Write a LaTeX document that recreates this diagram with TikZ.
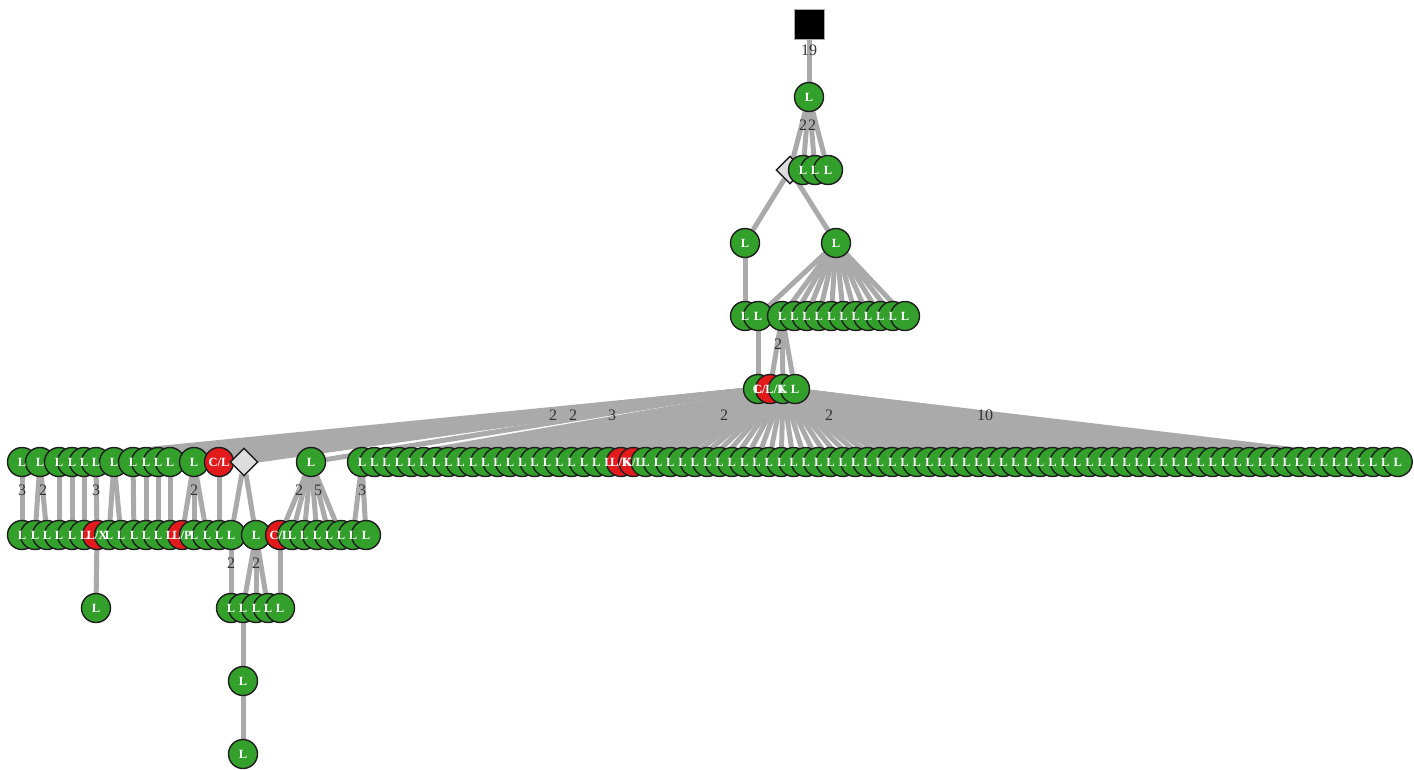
\documentclass[tikz,border=0pt]{standalone}
\usepackage{fontspec}
\setmainfont{Liberation Serif}
\usetikzlibrary{shapes.geometric, backgrounds}
\definecolor{clrLeaf} {HTML}{33A02C}
\definecolor{clrHot}  {HTML}{E31A1C}
\definecolor{clrEdge} {HTML}{AAAAAA}
\definecolor{clrRim}  {HTML}{1E1E1E}
\definecolor{clrSplit}{HTML}{DDDDDD}
\definecolor{clrNum}  {HTML}{333333}
\pgfdeclarelayer{front}
\pgfsetlayers{background,main,front}
\tikzset{
  leaf/.style = {
    circle, draw=clrRim, line width=1.4pt,
    fill=clrLeaf, minimum size=29pt, inner sep=0pt,
  },
  hot/.style   = {leaf, fill=clrHot},
  split/.style = {diamond, draw=clrRim, line width=1.4pt,
                  fill=clrSplit, minimum size=28pt, inner sep=0pt},
  root/.style  = {rectangle, draw=clrEdge, line width=1pt,
                  fill=black, minimum size=30pt, inner sep=0pt},
  tag/.style   = {font=\fontsize{12.5}{12.5}\selectfont\bfseries,
                  text=white, inner sep=0pt},
  link/.style  = {draw=clrEdge, line width=5pt},
  num/.style   = {font=\fontsize{16}{16}\selectfont, text=clrNum, inner sep=1pt},
}

\begin{document}
\begin{tikzpicture}[x=1pt, y=-1pt]
\useasboundingbox (0,0) rectangle (1414,769);

% ══════════════════════════════════════════════════════════════════════════
%  TOP — root, first split, upper levels
% ══════════════════════════════════════════════════════════════════════════

\node[root]  (sq) at (809, 24) {};
\node[leaf]  (a)  at (809, 97) {};
\node[split] (d1) at (790,170) {};
\foreach \n/\x in {b1/803, b2/815, b3/828}
  \node[leaf] (\n) at (\x,170) {};
\node[leaf]  (c1) at (745,243) {};
\node[leaf]  (c2) at (836,243) {};
\node[leaf]  (e1) at (745,316) {};
\node[leaf]  (e2) at (758,316) {};
\foreach \i in {1,...,11}
  \node[leaf] (f\i) at ({782+12.3*(\i-1)},316) {};
\foreach \n/\x/\s in {g1/758/leaf, g2/770/hot, g3/783/leaf, g4/795/leaf}
  \node[\s] (\n) at (\x,389) {};

% ══════════════════════════════════════════════════════════════════════════
%  ROW y=462 — left group + long row
% ══════════════════════════════════════════════════════════════════════════

\foreach \n/\x/\s in {h1/22/leaf, h2/40/leaf, h3/59/leaf, h4/72/leaf,
                      h5/84/leaf, h6/96/leaf, h7/114/leaf, h8/133/leaf,
                      h9/146/leaf, h10/158/leaf, h11/170/leaf,
                      h12/194/leaf, h13/219/hot}
  \node[\s] (\n) at (\x,462) {};
\node[split] (d2)  at (244,462) {};
\node[leaf]  (h14) at (311,462) {};
\foreach \k in {0,...,84}{
  \ifnum\k=21 \def\kind{hot}\else\ifnum\k=22 \def\kind{hot}\else\def\kind{leaf}\fi\fi
  \node[\kind] (r\k) at ({362+12.33*\k},462) {};
}

% ══════════════════════════════════════════════════════════════════════════
%  ROWS y=535 .. 754
% ══════════════════════════════════════════════════════════════════════════

\foreach \n/\x/\s in {i1/22/leaf, i2/35/leaf, i3/47/leaf, i4/59/leaf,
                      i5/72/leaf, i6/84/leaf, i7/97/hot, i8/109/leaf,
                      i9/121/leaf, i10/134/leaf, i11/146/leaf, i12/158/leaf,
                      i13/170/leaf, i14/182/hot, i15/194/leaf, i16/207/leaf,
                      i17/219/leaf, i18/231/leaf, j/256/leaf, k1/280/hot,
                      k2/292/leaf, k3/304/leaf, k4/317/leaf, k5/329/leaf,
                      k6/341/leaf, k7/353/leaf, k8/366/leaf}
  \node[\s] (\n) at (\x,535) {};

\node[leaf] (m) at (96,608) {};
\foreach \n/\x in {n1/231, n2/243, n3/256, n4/268, n5/280}
  \node[leaf] (\n) at (\x,608) {};
\node[leaf] (p) at (243,681) {};
\node[leaf] (q) at (243,754) {};

% ── node texts, above every disc ─────────────────────────────────────────
\begin{pgfonlayer}{front}
  \foreach \n/\t in {a/L, b1/L, b2/L, b3/L, c1/L, c2/L, e1/L, e2/L,
                     g1/L, g2/{C/L/K}, g3/L, g4/L,
                     h1/L, h2/L, h3/L, h4/L, h5/L, h6/L, h7/L, h8/L, h9/L,
                     h10/L, h11/L, h12/L, h13/{C/L}, h14/L,
                     i1/L, i2/L, i3/L, i4/L, i5/L, i6/L, i7/{L/X}, i8/L,
                     i9/L, i10/L, i11/L, i12/L, i13/L, i14/{L/P}, i15/L,
                     i16/L, i17/L, i18/L, j/L, k1/{C/L}, k2/L, k3/L, k4/L,
                     k5/L, k6/L, k7/L, k8/L,
                     m/L, n1/L, n2/L, n3/L, n4/L, n5/L, p/L, q/L}
    \node[tag] (\n-t) at (\n) {\t};
  \foreach \i in {1,...,11}
    \node[tag] (f\i-t) at (f\i) {L};
  \foreach \k in {0,...,84}{
    \ifnum\k=21 \def\txt{L/K}\else\ifnum\k=22 \def\txt{K/L}\else\def\txt{L}\fi\fi
    \node[tag] (r\k-t) at (r\k) {\txt};
  }
\end{pgfonlayer}

% ══════════════════════════════════════════════════════════════════════════
%  Links (under the nodes)
% ══════════════════════════════════════════════════════════════════════════

\begin{scope}[on background layer]
  \draw[link] (sq) -- (a);
  \foreach \t in {d1,b1,b2,b3} \draw[link] (a) -- (\t);
  \draw[link] (d1) -- (c1);
  \draw[link] (d1) -- (c2);
  \draw[link] (c1) -- (e1);
  \draw[link] (c2) -- (e2);
  \foreach \i in {1,...,11} \draw[link] (c2) -- (f\i);
  \draw[link] (e2) -- (g1);
  \foreach \t in {g2,g3,g4} \draw[link] (f1) -- (\t);

  % big fan out of the y=389 cluster
  \foreach \i in {1,...,14} \draw[link] (g1) -- (h\i);
  \draw[link] (g1) -- (d2);
  \foreach \k in {0,...,84} \draw[link] (g3) -- (r\k);

  % 462 -> 535 -> 608 -> ...
  \foreach \s/\t in {h1/i1, h2/i2, h2/i3, h3/i4, h4/i5, h5/i6, h6/i7,
                     h7/i8, h7/i9, h8/i10, h9/i11, h10/i12, h11/i13,
                     h12/i14, h12/i15, h12/i16, h13/i17, d2/i18, d2/j,
                     h14/k1, h14/k2, h14/k3, h14/k4, h14/k5, h14/k6,
                     r0/k7, r0/k8,
                     i7/m, i18/n1, j/n2, j/n3, j/n4, k1/n5, n2/p, p/q}
    \draw[link] (\s) -- (\t);
\end{scope}

% ══════════════════════════════════════════════════════════════════════════
%  Link counts
% ══════════════════════════════════════════════════════════════════════════

\node[num] (w19) at (809, 50) {19};
\node[num] (wa1) at (803,125) {2};
\node[num] (wa2) at (812,125) {2};
\node[num] (wf1) at (778,344) {2};
\foreach \n/\x/\t in {wg1/553/2, wg2/573/2, wg3/612/3, wg4/724/2,
                      wg5/829/2, wg6/985/10}
  \node[num] (\n) at (\x,415) {\t};
\foreach \n/\x/\t in {wh1/22/3, wh2/43/2, wh6/96/3, wh12/194/2,
                      wh14a/299/2, wh14b/318/5, wr0/362/3}
  \node[num] (\n) at (\x,490) {\t};
\node[num] (wi18) at (231,563) {2};
\node[num] (wj)   at (256,563) {2};

\end{tikzpicture}
\end{document}
